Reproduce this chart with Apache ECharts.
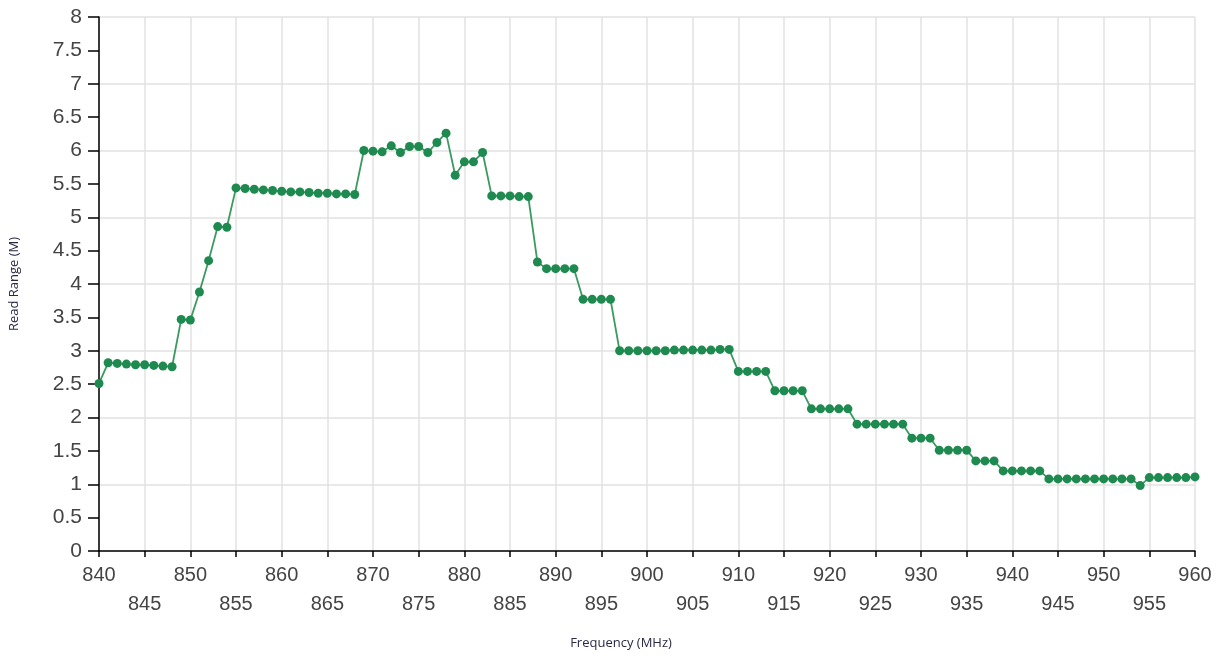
<!DOCTYPE html>
<html>
<head>
<meta charset="utf-8">
<script src="https://cdn.jsdelivr.net/npm/echarts@6/dist/echarts.min.js"></script>
<style>html,body{margin:0;padding:0;background:#fff}#c{width:1218px;height:658px}</style>
</head>
<body>
<div id="c"></div>
<script>
const frequencies = [840,841,842,843,844,845,846,847,848,849,850,851,852,853,854,855,856,857,858,859,860,861,862,863,864,865,866,867,868,869,870,871,872,873,874,875,876,877,878,879,880,881,882,883,884,885,886,887,888,889,890,891,892,893,894,895,896,897,898,899,900,901,902,903,904,905,906,907,908,909,910,911,912,913,914,915,916,917,918,919,920,921,922,923,924,925,926,927,928,929,930,931,932,933,934,935,936,937,938,939,940,941,942,943,944,945,946,947,948,949,950,951,952,953,954,955,956,957,958,959,960];
const readRange = [
  2.51,
  2.82,2.81,2.80,2.79,2.79,2.78,2.77,2.76,
  3.47,3.46,3.88,4.35,4.86,4.85,
  5.44,5.43,5.42,5.41,5.40,5.39,5.38,5.38,5.37,5.36,5.36,5.35,5.35,5.34,
  6.00,5.99,5.98,6.07,5.97,6.06,6.06,5.97,6.12,6.26,5.63,5.83,5.83,5.97,
  5.32,5.32,5.32,5.31,5.31,
  4.33,4.23,4.23,4.23,4.23,
  3.77,3.77,3.77,3.77,
  3.00,3.00,3.00,3.00,3.00,3.00,3.01,3.01,3.01,3.01,3.01,3.02,3.02,
  2.69,2.69,2.69,2.69,
  2.40,2.40,2.40,2.40,
  2.13,2.13,2.13,2.13,2.13,
  1.90,1.90,1.90,1.90,1.90,1.90,
  1.69,1.69,1.69,
  1.51,1.51,1.51,1.51,
  1.35,1.35,1.35,
  1.20,1.20,1.20,1.20,1.20,
  1.08,1.08,1.08,1.08,1.08,1.08,1.08,1.08,1.08,1.08,
  0.98,
  1.10,1.10,1.10,1.10,1.10,1.11
];
const xMin = 840, xMax = 960, xStep = 5;
const yMin = 0, yMax = 8, yLabelStep = 0.5, yGridStep = 1;

const data = frequencies.map((f, i) => [f, readRange[i]]);
const chart = echarts.init(document.getElementById('c'));
chart.setOption({
  animation: false,
  grid: {left: 98, right: 23, top: 17, bottom: 107},
  xAxis: {
    type: 'value', min: xMin, max: xMax, interval: xStep,
    name: 'Frequency (MHz)', nameLocation: 'middle', nameGap: 86,
    nameTextStyle: {fontFamily: 'Open Sans', fontSize: 13, color: '#2a2a45', padding: [0, 52, 0, 0]},
    axisLine: {lineStyle: {color: '#000', width: 1.5}},
    axisTick: {length: 6, lineStyle: {color: '#000', width: 1.5}},
    axisLabel: {
      fontFamily: 'Liberation Sans', fontSize: 20, color: '#444', lineHeight: 29, margin: 10,
      formatter: v => ((v - xMin) % 10 === 5 ? '\n' + v : '' + v)
    },
    splitLine: {show: true, lineStyle: {color: '#e2e2e2', width: 1.5}}
  },
  yAxis: [{
    type: 'value', min: yMin, max: yMax, interval: yLabelStep,
    name: 'Read Range (M)', nameLocation: 'middle', nameGap: 78,
    nameTextStyle: {fontFamily: 'Open Sans', fontSize: 13, color: '#2a2a45'},
    axisLine: {show: true, lineStyle: {color: '#000', width: 1.5}},
    axisTick: {show: true, length: 11, lineStyle: {color: '#000', width: 1.5}},
    axisLabel: {fontFamily: 'Liberation Sans', fontSize: 21, color: '#444', margin: 17},
    splitLine: {show: false}
  }, {
    type: 'value', min: yMin, max: yMax, interval: yGridStep, position: 'left',
    axisLine: {show: false}, axisTick: {show: false}, axisLabel: {show: false},
    splitLine: {show: true, lineStyle: {color: '#e2e2e2', width: 1.5}}
  }],
  series: [{
    type: 'line', yAxisIndex: 0, data: data,
    symbol: 'circle', symbolSize: 9,
    lineStyle: {color: '#3a9a60', width: 1.8},
    itemStyle: {color: '#1f8a50'}
  }]
});
</script>
</body>
</html>
